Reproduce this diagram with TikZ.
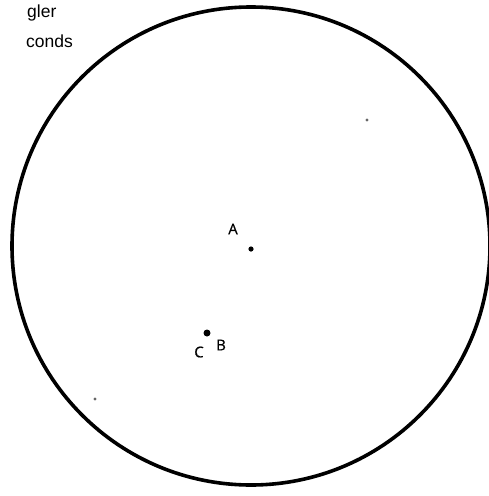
\documentclass[tikz,border=0pt]{standalone}
\usepackage{fontspec}
\setmainfont{Liberation Sans}
\newfontfamily\labelfont[FakeBold=0.6]{Open Sans}
\begin{document}
\begin{tikzpicture}[x=1pt,y=-1pt,
  star/.style={circle,fill=black,inner sep=0pt,minimum size=#1},
  faint/.style={circle,fill=black!60,inner sep=0pt,minimum size=3.2pt},
  lbl/.style={font=\labelfont\fontsize{15}{17}\selectfont,inner sep=0pt},
  caption/.style={font=\fontsize{17.5}{20}\selectfont,inner sep=0pt,anchor=base west}]
\useasboundingbox (0,0) rectangle (489,496);
\node[draw=black,line width=3.6pt,circle,minimum size=478pt,inner sep=0pt] (field) at (251,246) {};
\node[caption] (t1) at (27,17) {gler};
\node[caption] (t2) at (26,47) {conds};
\node[faint] (s1) at (367,120) {};
\node[faint] (s2) at (95,399) {};
\node[star=5.2pt] (a) at (251,249) {};
\node[lbl] (la) at (233,229) {A};
\node[star=7pt] (bc) at (207,333) {};
\node[lbl] (lb) at (221,345) {B};
\node[lbl] (lc) at (199,352) {C};
\end{tikzpicture}
\end{document}
